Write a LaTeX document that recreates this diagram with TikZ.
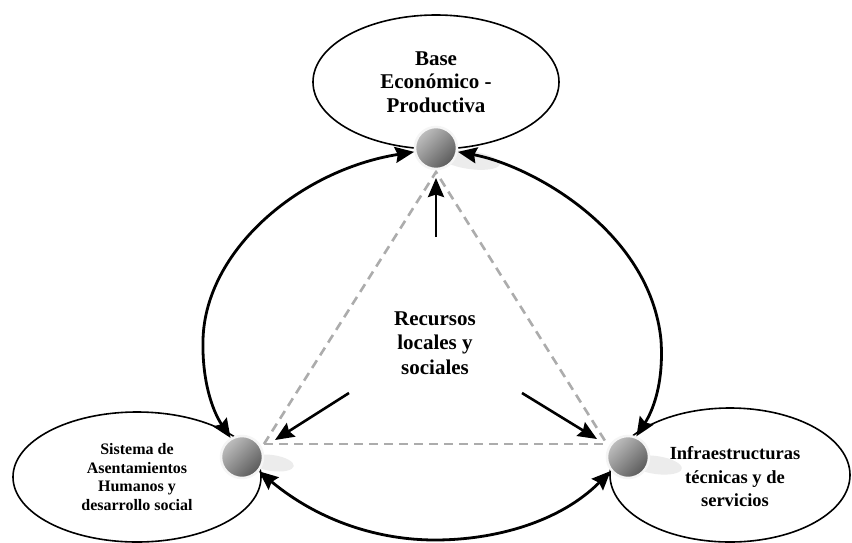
\documentclass[tikz,border=0pt]{standalone}
\usepackage{fontspec}
\setmainfont{Liberation Serif}[BoldFont={Liberation Serif Bold}]
\usetikzlibrary{arrows.meta,shapes.geometric}
\begin{document}
\begin{tikzpicture}[x=1pt,y=-1pt,
  oval/.style={draw=black,line width=1.6pt,ellipse,inner sep=0pt,fill=white,align=center,font=\bfseries},
  ball/.style={circle,minimum size=42pt,inner sep=0pt,draw=gray!8,line width=2.5pt,
    shading=axis,top color=gray!50,bottom color=black!65,shading angle=45},
  shadowblob/.style={fill=gray!15},
  dashline/.style={draw=gray!65,line width=2.6pt,dash pattern=on 9pt off 6pt},
  bigarc/.style={line width=2.8pt,{Stealth[length=19pt,width=16pt,inset=2.5pt]}-{Stealth[length=19pt,width=16pt,inset=2.5pt]}},
  shortarr/.style={line width=2.6pt,-{Stealth[length=19pt,width=16pt,inset=2.5pt]}},
  lbl/.style={align=center,font=\bfseries}]
\useasboundingbox (0,0) rectangle (852,542);
\clip (0,0) rectangle (852,542);
\fill[white] (0,0) rectangle (852,542);

% ovals
\node[oval,minimum width=246pt,minimum height=134pt,font=\bfseries\fontsize{21}{23.5}\selectfont] (top) at (436,82) {Base\\Económico -\\Productiva};
\node[oval,minimum width=248pt,minimum height=130pt,font=\bfseries\fontsize{16}{18.5}\selectfont] (left) at (137,477) {Sistema de\\Asentamientos\\Humanos y\\desarrollo social};
\node[oval,minimum width=240pt,minimum height=134pt] (right) at (730,475) {};
\node[lbl,font=\bfseries\fontsize{18.5}{23.5}\selectfont] (righttxt) at (735,477) {Infraestructuras\\técnicas y de\\servicios};

% shadows
\fill[shadowblob,rotate around={-8:(470,160)}] (470,160) ellipse (30pt and 9pt);
\fill[shadowblob,rotate around={-8:(272,463)}] (272,463) ellipse (22pt and 8pt);
\fill[shadowblob,rotate around={-8:(656,465)}] (656,465) ellipse (26pt and 9pt);

% dashed triangle
\coordinate (tT) at (436,172);
\coordinate (tL) at (264,444);
\coordinate (tR) at (607,444);
\draw[dashline] (tL) -- (tT) -- (tR);
\draw[dashline] (tL) -- (tR);

% balls
\node[ball] (bT) at (436,148) {};
\node[ball] (bL) at (242,457) {};
\node[ball] (bR) at (628,457) {};

% centre label
\node[lbl,font=\bfseries\fontsize{21}{24.5}\selectfont] (centre) at (435,343) {Recursos\\locales y\\sociales};

% short arrows
\coordinate (sV0) at (436,237);
\coordinate (sV1) at (436,178);
\coordinate (sL0) at (349,393);
\coordinate (sL1) at (275,440);
\coordinate (sR0) at (522,393);
\coordinate (sR1) at (597,439);
\draw[shortarr] (sV0) -- (sV1);
\draw[shortarr] (sL0) -- (sL1);
\draw[shortarr] (sR0) -- (sR1);

% big arcs
\draw[bigarc] (bT.190) .. controls (300,170) and (205,250) .. (203,340)
  .. controls (202,380) and (212,410) .. (bL.121);
\draw[bigarc] (bT.350) .. controls (530,165) and (650,230) .. (661,340)
  .. controls (664,385) and (652,412) .. (bR.68);
\draw[bigarc] (bL.320) .. controls (320,522) and (380,540) .. (435,540)
  .. controls (495,540) and (560,522) .. (bR.219);
\end{tikzpicture}
\end{document}
